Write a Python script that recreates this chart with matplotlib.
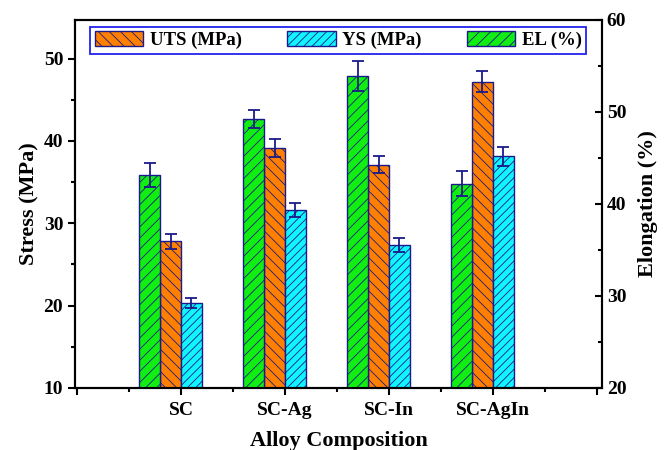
"""Tensile properties of SC alloys: stress bars with elongation on a twin axis."""

import matplotlib as mpl
import numpy as np
from matplotlib import pyplot as plt
from matplotlib.ticker import MultipleLocator

mpl.use("Agg")

alloys = ["SC", "SC-Ag", "SC-In", "SC-AgIn"]
uts = [27.8, 39.1, 37.1, 47.2]
uts_err = [0.9, 1.1, 1.05, 1.3]
ys = [20.3, 31.6, 27.35, 38.1]
ys_err = [0.6, 0.9, 0.9, 1.1]
el = [43.1, 49.2, 53.9, 42.2]
el_err = [1.3, 1.0, 1.6, 1.4]

NAVY = "#1a1a8a"
plt.rcParams["font.family"] = ["Liberation Serif", "DejaVu Serif"]
plt.rcParams["font.weight"] = "bold"
plt.rcParams["hatch.color"] = NAVY
plt.rcParams["hatch.linewidth"] = 0.6

fig = plt.figure(figsize=(6.7, 4.5), dpi=100)
ax = fig.add_axes([0.112, 0.138, 0.7865, 0.818])
ax2 = ax.twinx()

x = np.arange(1, len(alloys) + 1)
w = 0.2
err_kw = dict(ecolor=NAVY, elinewidth=1.3, capsize=4, capthick=1.3)

b_el = ax2.bar(x - 1.5 * w, el, w, yerr=el_err, color="#11ee11", edgecolor=NAVY,
               linewidth=1.0, hatch="///", error_kw=err_kw, label="EL (%)")
b_uts = ax.bar(x - 0.5 * w, uts, w, yerr=uts_err, color="#ff8000", edgecolor=NAVY,
               linewidth=1.0, hatch="\\\\\\", error_kw=err_kw, label="UTS (MPa)")
b_ys = ax.bar(x + 0.5 * w, ys, w, yerr=ys_err, color="#11f5ff", edgecolor=NAVY,
              linewidth=1.0, hatch="////", error_kw=err_kw, label="YS (MPa)")

ax.set_xlim(-0.02, 5.05)
ax.set_ylim(10, 54.7)
ax2.set_ylim(20, 60)

ax.set_xticks(np.arange(0, 6))
ax.set_xticklabels([""] + alloys + [""])
ax.xaxis.set_minor_locator(MultipleLocator(0.5))
ax.yaxis.set_major_locator(MultipleLocator(10))
ax.yaxis.set_minor_locator(MultipleLocator(5))
ax2.yaxis.set_major_locator(MultipleLocator(10))
ax2.yaxis.set_minor_locator(MultipleLocator(5))

ax.tick_params(axis="both", which="major", direction="out", length=5, width=1.5,
               labelsize=14, top=False)
ax.tick_params(axis="both", which="minor", direction="out", length=3, width=1.5, top=False)
ax.tick_params(axis="x", pad=5)
ax2.tick_params(axis="y", which="major", direction="in", length=5, width=1.5, labelsize=14)
ax2.tick_params(axis="y", which="minor", direction="in", length=3, width=1.5)
for spine in list(ax.spines.values()) + list(ax2.spines.values()):
    spine.set_linewidth(1.5)

ax.set_ylabel("Stress (MPa)", fontsize=16, fontweight="bold", labelpad=3)
ax2.set_ylabel("Elongation (%)", fontsize=16, fontweight="bold", labelpad=8)
ax.set_xlabel("Alloy Composition", fontsize=16, fontweight="bold", labelpad=9)

leg = ax2.legend([b_uts, b_ys, b_el], ["UTS (MPa)", "YS (MPa)", "EL (%)"],
                 ncol=3, loc="upper left", bbox_to_anchor=(0.022, 0.99, 0.955, 0.0),
                 mode="expand", fancybox=False, edgecolor="#2222ee", framealpha=1,
                 handlelength=2.6, handleheight=0.85, fontsize=13.5, borderaxespad=0.2,
                 borderpad=0.22, handletextpad=0.35)
leg.get_frame().set_linewidth(1.3)

fig.savefig("out.png", dpi=100)
plt.close(fig)
